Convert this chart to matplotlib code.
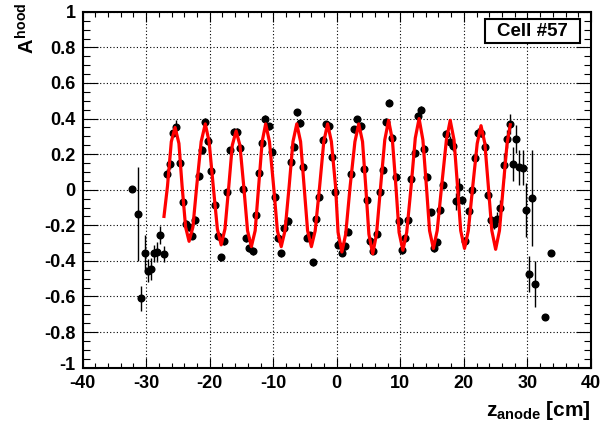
import numpy as np
import matplotlib
matplotlib.use("Agg")
import matplotlib.pyplot as plt
import matplotlib.transforms as mtransforms
from matplotlib.patches import Rectangle
from matplotlib.ticker import MultipleLocator

plt.rcParams['font.family'] = ['Liberation Sans', 'DejaVu Sans']
plt.rcParams['font.weight'] = 'bold'
plt.rcParams['axes.unicode_minus'] = False
plt.rcParams['mathtext.fontset'] = 'custom'
plt.rcParams['mathtext.rm'] = 'Liberation Sans:bold'
plt.rcParams['mathtext.it'] = 'Liberation Sans:bold'
plt.rcParams['mathtext.bf'] = 'Liberation Sans:bold'

# measured asymmetry per z bin
z = [-32.25] + list(np.arange(-31.25, 31.26, 0.5)) + [32.75, 33.75]
a = [0.004,
     -0.135, -0.61, -0.355, -0.456, -0.445, -0.358, -0.35, -0.255, -0.362, 0.088,
     0.144, 0.317, 0.35, 0.152, -0.07, -0.19, -0.212, -0.259, -0.17, 0.075,
     0.223, 0.383, 0.272, 0.103, -0.088, -0.26, -0.38, -0.289, -0.015, 0.221,
     0.326, 0.325, 0.236, 0.002, -0.274, -0.33, -0.345, -0.143, 0.096, 0.261,
     0.40, 0.356, 0.214, -0.041, -0.272, -0.358, -0.216, -0.176, 0.154, 0.242,
     0.435, 0.373, 0.129, -0.27, -0.255, -0.409, -0.163, -0.041, 0.28, 0.368,
     0.358, 0.184, -0.015, -0.31, -0.355, -0.317, -0.235, 0.09, 0.34, 0.396,
     0.358, 0.116, -0.06, -0.287, -0.343, -0.248, -0.015, 0.113, 0.383, 0.488,
     0.293, 0.073, -0.174, -0.341, -0.274, -0.173, 0.06, 0.206, 0.417, 0.448,
     0.231, 0.073, -0.126, -0.328, -0.296, -0.116, 0.028, 0.313, 0.27, 0.248,
     -0.066, 0.017, -0.058, -0.291, -0.122, -0.002, 0.18, 0.32, 0.319, 0.242,
     -0.032, -0.171, -0.191, -0.163, -0.105, 0.137, 0.287, 0.371, 0.146, 0.285,
     0.126, 0.124, -0.114, -0.475, -0.047, -0.53,
     -0.717, -0.358]
a_err = [0.0,
         0.265, 0.07, 0.10, 0.065, 0.06, 0.05, 0.055, 0.05, 0.045, 0.03,
         0.025, 0.02, 0.04, 0.02, 0.02, 0.02, 0.02, 0.02, 0.02, 0.02,
         0.02, 0.02, 0.02, 0.02, 0.02, 0.02, 0.02, 0.02, 0.02, 0.02,
         0.02, 0.02, 0.02, 0.02, 0.02, 0.02, 0.02, 0.02, 0.02, 0.02,
         0.02, 0.02, 0.02, 0.02, 0.02, 0.02, 0.02, 0.02, 0.02, 0.02,
         0.02, 0.02, 0.02, 0.02, 0.02, 0.02, 0.02, 0.02, 0.02, 0.02,
         0.02, 0.02, 0.02, 0.02, 0.02, 0.02, 0.02, 0.02, 0.02, 0.02,
         0.02, 0.02, 0.02, 0.02, 0.02, 0.02, 0.02, 0.02, 0.02, 0.02,
         0.02, 0.02, 0.02, 0.02, 0.02, 0.02, 0.02, 0.02, 0.02, 0.02,
         0.02, 0.02, 0.02, 0.02, 0.02, 0.02, 0.02, 0.025, 0.03, 0.03,
         0.05, 0.05, 0.025, 0.025, 0.025, 0.025, 0.025, 0.025, 0.025, 0.025,
         0.025, 0.025, 0.03, 0.04, 0.045, 0.07, 0.05, 0.055, 0.095, 0.08,
         0.10, 0.10, 0.15, 0.10, 0.27, 0.13,
         0.0, 0.0]

# fitted curve
fit_z = [-27.2, -26.65, -26.05, -25.45, -24.85, -24.35, -23.8, -23.25, -22.65, -22.05,
         -21.35, -20.7, -20.1, -19.45, -18.8, -18.2, -17.6, -17.0, -16.45, -15.85,
         -15.25, -14.65, -14.05, -13.45, -12.85, -12.3, -11.75, -11.2, -10.6, -9.95,
         -9.35, -8.75, -8.15, -7.5, -6.9, -6.3, -5.7, -5.15, -4.6, -4.0,
         -3.4, -2.7, -2.05, -1.45, -0.85, -0.2, 0.2, 0.8, 1.4, 2.1,
         2.85, 3.45, 4.05, 4.55, 5.05, 5.65, 6.25, 6.9, 7.55, 8.15,
         8.75, 9.3, 9.8, 10.4, 11.0, 11.7, 12.35, 12.95, 13.55, 14.1,
         14.6, 15.2, 15.8, 16.5, 17.25, 17.85, 18.45, 19.0, 19.5, 20.1,
         20.7, 21.4, 22.1, 22.7, 23.3, 23.85, 24.4, 25.0, 25.6, 26.2,
         26.8, 27.3]
fit_a = [-0.15, 0.02, 0.27, 0.35, 0.26, 0.02, -0.21, -0.29, -0.21, 0.02,
         0.27, 0.37, 0.27, 0.02, -0.22, -0.31, -0.22, 0.02, 0.25, 0.33,
         0.25, 0.02, -0.23, -0.32, -0.23, 0.02, 0.27, 0.37, 0.27, 0.02,
         -0.23, -0.32, -0.23, 0.02, 0.27, 0.37, 0.27, 0.02, -0.23, -0.32,
         -0.23, 0.02, 0.27, 0.37, 0.27, 0.02, -0.24, -0.35, -0.25, 0.02,
         0.27, 0.37, 0.27, 0.02, -0.25, -0.36, -0.25, 0.02, 0.28, 0.39,
         0.28, 0.02, -0.24, -0.34, -0.24, 0.02, 0.29, 0.40, 0.28, 0.02,
         -0.23, -0.33, -0.23, 0.02, 0.28, 0.39, 0.28, 0.02, -0.23, -0.33,
         -0.23, 0.02, 0.26, 0.36, 0.26, 0.02, -0.23, -0.335, -0.23, 0.02,
         0.26, 0.365]

fig = plt.figure(figsize=(6.03, 4.25), dpi=100)
ax = fig.add_axes([0.1371, 0.135, 0.980 - 0.1371, 0.9722 - 0.135])

ax.errorbar(z, a, yerr=a_err, fmt='o', color='black', ms=4.8,
            elinewidth=1.0, capsize=0, zorder=3)
ax.plot(fit_z, fit_a, color='red', lw=2.3, zorder=4)

ax.set_xlim(-40, 40)
ax.set_ylim(-1, 1)
ax.xaxis.set_major_locator(MultipleLocator(10))
ax.xaxis.set_minor_locator(MultipleLocator(2))
ax.yaxis.set_minor_locator(MultipleLocator(0.05))
ax.set_yticks(np.arange(-1, 1.01, 0.2))
ax.set_yticklabels(['-1', '-0.8', '-0.6', '-0.4', '-0.2', '0', '0.2', '0.4', '0.6', '0.8', '1'])
ax.grid(True, which='major', color='black', linestyle=(0, (1, 2)), lw=0.8)

ax.tick_params(which='both', direction='in', top=True, right=True, width=0.8,
               labelsize=13, colors='black')
ax.tick_params(axis='x', which='major', length=7.5, pad=5)
ax.tick_params(axis='x', which='minor', length=3.8)
ax.tick_params(axis='y', which='major', length=10.5, pad=5)
ax.tick_params(axis='y', which='minor', length=5.3)
for lab in ax.get_xticklabels() + ax.get_yticklabels():
    lab.set_fontweight('bold')
for sp in ax.spines.values():
    sp.set_linewidth(1.5)

# lift the bottom y label a little, as ROOT does, so it clears "-40"
lowest = ax.get_yticklabels()[0]
lowest.set_transform(lowest.get_transform() +
                     mtransforms.ScaledTranslation(0, 4 / 100, fig.dpi_scale_trans))

fig.text(27 / 603, 1 - 3 / 425, r'$A^{hood}$', rotation=90, ha='center', va='top',
         fontsize=14.5)
fig.text(591 / 603, 1 - 399 / 425, r'$z_{anode}$ [cm]', ha='right', va='top',
         fontsize=15, fontweight='bold')

fig.patches.append(Rectangle((485 / 603, 1 - 43 / 425), 95 / 603, 24 / 425,
                             transform=fig.transFigure, fc='white', ec='black',
                             lw=1.5, zorder=5))
fig.text(532.5 / 603, 1 - 31 / 425, 'Cell #57', ha='center', va='center',
         fontsize=13.5, fontweight='bold', zorder=6)

fig.savefig('out.png', dpi=100)
